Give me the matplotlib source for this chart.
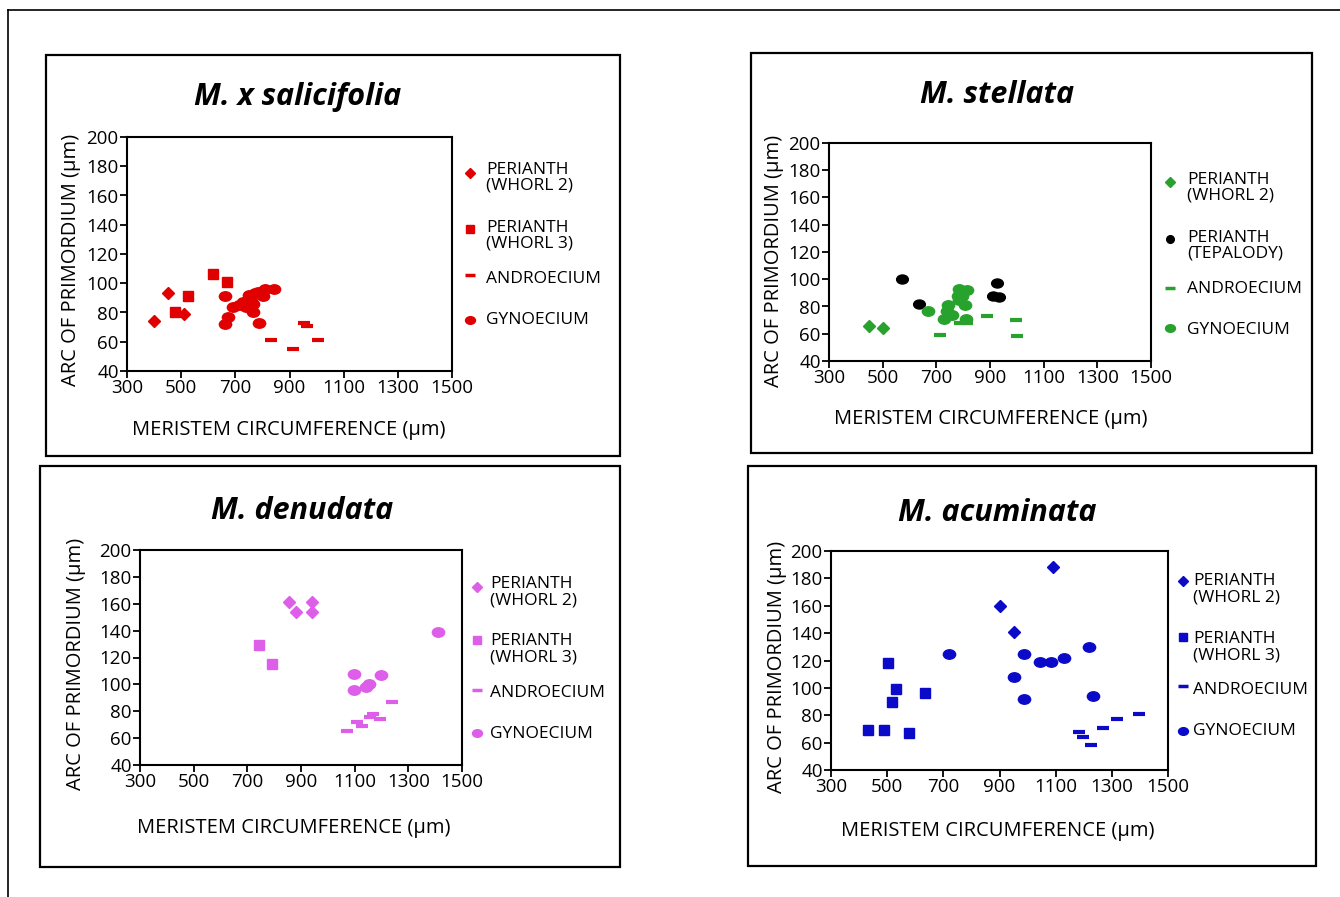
import matplotlib
matplotlib.use('Agg')
import matplotlib.pyplot as plt
from matplotlib.markers import MarkerStyle
from matplotlib.patches import Rectangle
from matplotlib.lines import Line2D
from matplotlib.transforms import Affine2D
import numpy as np

plt.rcParams['font.family'] = ['Open Sans', 'DejaVu Sans']

W, H = 1340, 897

# ---- data ----
sal_w2_x = [400, 452, 512]
sal_w2_y = [74, 93, 79]
sal_w3_x = [477, 527, 619, 670]
sal_w3_y = [80, 91, 106, 101]
sal_and_x = [830, 914, 952, 966, 1007]
sal_and_y = [61, 55, 73, 71, 61]
sal_gyn_x = [661, 662, 673, 692, 713, 727, 740, 746, 750, 758, 764, 764, 774, 784, 789, 802, 811, 842]
sal_gyn_y = [91, 72, 77, 84, 85, 87, 84, 87, 92, 88, 86, 80, 93, 94, 73, 91, 96, 96]

ste_w2_x = [450, 501]
ste_w2_y = [66, 64]
ste_tep_x = [572, 637, 913, 927, 935]
ste_tep_y = [100, 82, 88, 97, 87]
ste_and_x = [712, 789, 816, 887, 998, 999]
ste_and_y = [59, 68, 68, 73, 70, 58]
ste_gyn_x = [670, 730, 740, 745, 758, 780, 783, 786, 789, 795, 807, 811, 815]
ste_gyn_y = [77, 71, 77, 81, 74, 88, 93, 85, 91, 88, 81, 71, 92]

den_w2_x = [855, 880, 940, 940]
den_w2_y = [161, 154, 161, 154]
den_w3_x = [745, 791]
den_w3_y = [129, 115]
den_and_x = [1071, 1108, 1127, 1156, 1168, 1196, 1240]
den_and_y = [65, 72, 69, 76, 78, 74, 87]
den_gyn_x = [1096, 1096, 1143, 1153, 1199, 1411]
den_gyn_y = [108, 96, 98, 100, 107, 139]

acu_w2_x = [901, 950, 1089]
acu_w2_y = [160, 141, 188]
acu_w3_x = [430, 490, 503, 518, 532, 576, 634]
acu_w3_y = [69, 69, 118, 90, 99, 67, 96]
acu_and_x = [1182, 1199, 1225, 1270, 1319, 1398]
acu_and_y = [68, 64, 58, 71, 77, 81]
acu_gyn_x = [719, 950, 988, 988, 1045, 1085, 1129, 1218, 1233]
acu_gyn_y = [125, 108, 125, 92, 119, 119, 122, 130, 94]

x_ticks = [300, 500, 700, 900, 1100, 1300, 1500]
y_ticks = [40, 60, 80, 100, 120, 140, 160, 180, 200]

RED = '#e00000'
GREEN = '#27a22d'
PINK = '#dd5ee8'
BLUE = '#0a0ac8'

ellipse = MarkerStyle('o', transform=Affine2D().scale(1.3, 1.0))


def fx(px):
    return px / W


def fy(py):
    return 1 - py / H


def add_box(fig, l, t, r, b):
    fig.patches.append(Rectangle((fx(l), fy(b)), fx(r - l), (b - t) / H, transform=fig.transFigure,
                                 fill=False, edgecolor='black', linewidth=1.6))


def draw_panel(fig, box, axbox, title, tpos, ylpos, xlpos, series, legend, lx, ltx):
    add_box(fig, *box)
    l, t, r, b = axbox
    ax = fig.add_axes([fx(l), fy(b), fx(r - l), (b - t) / H])
    for xs, ys, mk, col, ms, mew in series:
        ax.plot(xs, ys, linestyle='none', marker=mk, color=col, markersize=ms, markeredgewidth=mew,
                markeredgecolor=col)
    ax.set_xlim(300, 1500)
    ax.set_ylim(40, 200)
    ax.set_xticks(x_ticks)
    ax.set_yticks(y_ticks)
    ax.tick_params(labelsize=13.5, length=5, width=1.3, pad=1)
    for s in ax.spines.values():
        s.set_linewidth(1.5)
    fig.text(fx(tpos[0]), fy(tpos[1]), title, ha='center', va='center', fontsize=22,
             fontweight='bold', style='italic')
    fig.text(fx(ylpos[0]), fy(ylpos[1]), 'ARC OF PRIMORDIUM (µm)', ha='center', va='center',
             rotation=90, fontsize=14.5)
    fig.text(fx(xlpos[0]), fy(xlpos[1]), 'MERISTEM CIRCUMFERENCE (µm)', ha='center', va='center',
             fontsize=14.5)
    # legend drawn by hand: marker + text
    for (mk, col, ms, mew, my), (label, ty) in legend:
        fig.add_artist(Line2D([fx(lx)], [fy(my)], transform=fig.transFigure, linestyle='none',
                              marker=mk, color=col, markersize=ms, markeredgewidth=mew,
                              markeredgecolor=col))
        fig.text(fx(ltx), fy(ty), label, ha='left', va='top', fontsize=12.5, linespacing=1.0)
    return ax


def make_series(col, w2, w3, w3mk, andr, gyn, w3col=None):
    return [
        (w2[0], w2[1], 'D', col, 6.5, 1),
        (w3[0], w3[1], w3mk, w3col or col, 6.5 if w3mk == 's' else 6.5, 1),
        (andr[0], andr[1], '_', col, 9, 3),
        (gyn[0], gyn[1], ellipse, col, 6.8, 1),
    ]


def make_legend(col, ys, texts, w3mk='s', w3col=None):
    return [
        (('D', col, 5.5, 1, ys[0]), (texts[0], ys[4])),
        ((w3mk, w3col or col, 5.5 if w3mk == 's' else 5.5, 1, ys[1]), (texts[1], ys[5])),
        (('_', col, 7, 2.5, ys[2]), (texts[2], ys[6])),
        ((ellipse, col, 5.5, 1, ys[3]), (texts[3], ys[7])),
    ]


fig = plt.figure(figsize=(W / 100, H / 100), dpi=100)
fig.add_artist(Line2D([fx(8), fx(1340)], [fy(10), fy(10)], transform=fig.transFigure, color='black', lw=1.2))
fig.add_artist(Line2D([fx(8), fx(8)], [fy(10), fy(897)], transform=fig.transFigure, color='black', lw=1.2))

lab_w3 = ['PERIANTH\n(WHORL 2)', 'PERIANTH\n(WHORL 3)', 'ANDROECIUM', 'GYNOECIUM']
lab_tep = ['PERIANTH\n(WHORL 2)', 'PERIANTH\n(TEPALODY)', 'ANDROECIUM', 'GYNOECIUM']

draw_panel(fig, (46, 55, 620, 456), (127, 137, 452, 371), 'M. x salicifolia', (298, 97), (71, 260), (289, 430),
           make_series(RED, (sal_w2_x, sal_w2_y), (sal_w3_x, sal_w3_y), 's', (sal_and_x, sal_and_y),
                       (sal_gyn_x, sal_gyn_y)),
           make_legend(RED, [173, 229, 275, 320, 162, 220, 271, 312], lab_w3), 470, 486)

draw_panel(fig, (751, 53, 1312, 453), (829, 143, 1151, 361), 'M. stellata', (997, 95), (774, 261), (991, 419),
           make_series(GREEN, (ste_w2_x, ste_w2_y), (ste_tep_x, ste_tep_y), ellipse, (ste_and_x, ste_and_y),
                       (ste_gyn_x, ste_gyn_y), w3col='black'),
           make_legend(GREEN, [182, 239, 288, 328, 172, 230, 281, 322], lab_tep, w3mk='o', w3col='black'),
           1170, 1187)

draw_panel(fig, (40, 466, 620, 867), (140, 550, 462, 765), 'M. denudata', (302, 511), (76, 664), (294, 828),
           make_series(PINK, (den_w2_x, den_w2_y), (den_w3_x, den_w3_y), 's', (den_and_x, den_and_y),
                       (den_gyn_x, den_gyn_y)),
           make_legend(PINK, [587, 640, 690, 733, 576, 633, 685, 726], lab_w3), 477, 490)

draw_panel(fig, (748, 466, 1316, 866), (831, 551, 1168, 770), 'M. acuminata', (997, 513), (777, 667), (998, 831),
           make_series(BLUE, (acu_w2_x, acu_w2_y), (acu_w3_x, acu_w3_y), 's', (acu_and_x, acu_and_y),
                       (acu_gyn_x, acu_gyn_y)),
           make_legend(BLUE, [581, 637, 686, 731, 573, 631, 682, 723], lab_w3), 1183, 1193)

fig.savefig('out.png', dpi=100)
